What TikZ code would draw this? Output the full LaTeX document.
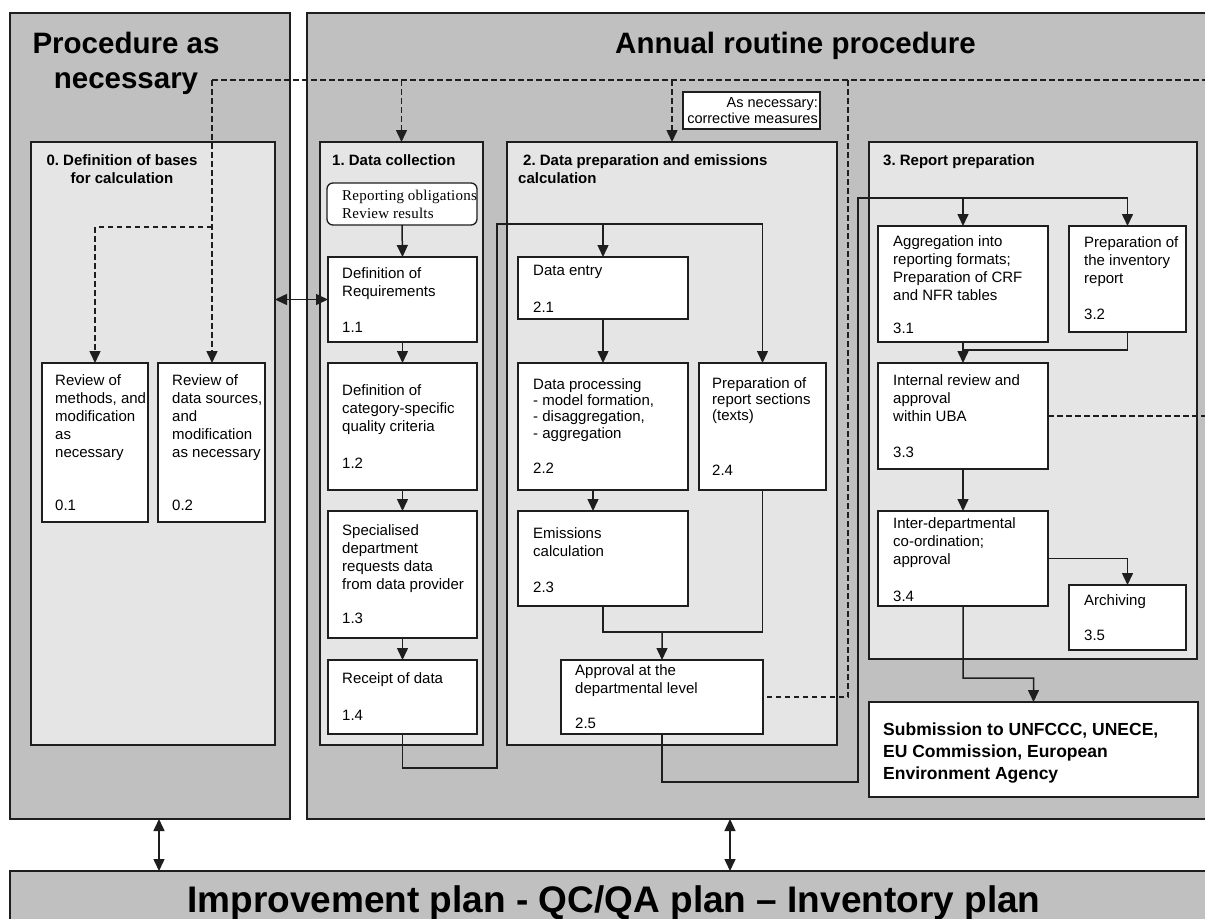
\documentclass[tikz,border=0pt]{standalone}
\usepackage{fontspec}
\setmainfont{Liberation Sans}
\newfontfamily\roundfont{Liberation Serif}[LetterSpace=1.5]
\usetikzlibrary{arrows.meta}

\definecolor{outerfill}{RGB}{192,192,192}
\definecolor{innerfill}{RGB}{229,229,229}
\definecolor{edge}{RGB}{30,30,30}

\tikzset{
  panel/.style={draw=edge, line width=1.3bp, fill=outerfill, anchor=north west, inner sep=0pt, outer sep=0pt},
  stage/.style={draw=edge, line width=1.3bp, fill=innerfill, anchor=north west, inner sep=0pt, outer sep=0pt},
  task/.style={draw=edge, line width=1.3bp, fill=white, anchor=north west, inner sep=0pt, outer sep=0pt},
  body/.style={font=\fontsize{15bp}{18bp}\selectfont, inner sep=0pt, anchor=north west, yshift=12.6bp, align=left},
  tight/.style={font=\fontsize{15bp}{16.3bp}\selectfont, inner sep=0pt, anchor=north west, yshift=11.41bp, align=left},
  subtext/.style={font=\bfseries\fontsize{17.5bp}{22bp}\selectfont, inner sep=0pt, anchor=north west, yshift=15.4bp, align=left},
  num/.style={font=\fontsize{15bp}{18bp}\selectfont, inner sep=0pt, anchor=base west},
  head/.style={font=\bfseries\fontsize{15bp}{18bp}\selectfont, inner sep=0pt, anchor=north west, yshift=12.6bp, align=left},
  bigtitle/.style={font=\bfseries\fontsize{29.5bp}{35bp}\selectfont, inner sep=0pt},
  link/.style={draw=edge, line width=1.5bp},
  flow/.style={link, -{Triangle[length=12bp,width=11bp]}},
  both/.style={link, {Triangle[length=12bp,width=11bp]}-{Triangle[length=12bp,width=11bp]}},
  dashlink/.style={link, dash pattern=on 5.5bp off 3.5bp},
  dashflow/.style={dashlink, -{Triangle[length=12bp,width=11bp]}}
}

\begin{document}
\frenchspacing
\begin{tikzpicture}[x=1bp, y=-1bp]
\path[use as bounding box] (0,0) rectangle (1205,919);
\clip (0,0) rectangle (1205,919);
\fill[white] (0,0) rectangle (1205,919);

% outer panels
\node[panel, minimum width=280bp, minimum height=806bp] (proc) at (10,13) {};
\node[panel, minimum width=920bp, minimum height=806bp] (annual) at (307,13) {};
\node[panel, minimum width=1215bp, minimum height=80bp] (plan) at (10,871) {};

% stage panels
\node[stage, minimum width=244bp, minimum height=603bp] (st0) at (31,142) {};
\node[stage, minimum width=163bp, minimum height=603bp] (st1) at (320,142) {};
\node[stage, minimum width=330bp, minimum height=603bp] (st2) at (507,142) {};
\node[stage, minimum width=328bp, minimum height=517bp] (st3) at (869,142) {};

% titles
\node[bigtitle, align=center, anchor=north, yshift=24.5bp] (tproc) at (126,53) {\strut Procedure as\\necessary};
\node[bigtitle, anchor=base west] (tannual) at (615,53) {Annual routine procedure};
\node[font=\bfseries\fontsize{37bp}{44bp}\selectfont, inner sep=0pt, anchor=base] (tplan) at (614,912) {Improvement plan - QC/QA plan -- Inventory plan};

% stage headings
\node[head, align=center, anchor=north] (h0) at (122,165) {\strut 0. Definition of bases\\for calculation};
\node[head] (h1) at (332,165) {\strut 1. Data collection};
\node[head] (h2) at (518,165) {\strut\hspace*{5bp}2. Data preparation and emissions\\calculation};
\node[head] (h3) at (883,165) {\strut 3. Report preparation};

% note box
\node[task, minimum width=137bp, minimum height=37bp] (note) at (683,92) {};
\node[font=\fontsize{14.5bp}{16bp}\selectfont, inner sep=0pt, anchor=north east, yshift=11.2bp, align=right] (tnote) at (818,107) {\strut As necessary:\\corrective measures};

% step boxes
\node[task, rounded corners=6bp, minimum width=150bp, minimum height=42bp] (rb) at (327,183) {};
\node[task, minimum width=106bp, minimum height=159bp] (b01) at (42,363) {};
\node[task, minimum width=107bp, minimum height=159bp] (b02) at (158,363) {};
\node[task, minimum width=149bp, minimum height=85bp] (b11) at (328,257) {};
\node[task, minimum width=149bp, minimum height=127bp] (b12) at (328,363) {};
\node[task, minimum width=149bp, minimum height=127bp] (b13) at (328,511) {};
\node[task, minimum width=149bp, minimum height=74bp] (b14) at (328,660) {};
\node[task, minimum width=170bp, minimum height=62bp] (b21) at (518,257) {};
\node[task, minimum width=170bp, minimum height=127bp] (b22) at (518,363) {};
\node[task, minimum width=170bp, minimum height=95bp] (b23) at (518,511) {};
\node[task, minimum width=127bp, minimum height=127bp] (b24) at (699,363) {};
\node[task, minimum width=202bp, minimum height=74bp] (b25) at (561,660) {};
\node[task, minimum width=170bp, minimum height=116bp] (b31) at (878,226) {};
\node[task, minimum width=117bp, minimum height=106bp] (b32) at (1069,226) {};
\node[task, minimum width=170bp, minimum height=106bp] (b33) at (878,363) {};
\node[task, minimum width=170bp, minimum height=95bp] (b34) at (878,511) {};
\node[task, minimum width=117bp, minimum height=65bp] (b35) at (1069,585) {};
\node[task, minimum width=329bp, minimum height=95bp] (sub) at (869,702) {};

% box texts
\node[inner sep=0pt, anchor=north west, yshift=12.6bp, align=left, font=\roundfont\fontsize{15bp}{18bp}\selectfont] (trb) at (342,200) {\strut Reporting obligations\\Review results};
\node[body] (t01) at (55,385) {\strut Review of\\methods, and\\modification\\as\\necessary};
\node[num] (n01) at (55,510) {0.1};
\node[body] (t02) at (172,385) {\strut Review of\\data sources,\\and\\modification\\as necessary};
\node[num] (n02) at (172,510) {0.2};
\node[body] (t11) at (342,278) {\strut Definition of\\Requirements};
\node[num] (n11) at (342,332) {1.1};
\node[body] (t12) at (342,395) {\strut Definition of\\category-specific\\quality criteria};
\node[num] (n12) at (342,468) {1.2};
\node[body] (t13) at (342,535) {\strut Specialised\\department\\requests data\\from data provider};
\node[num] (n13) at (342,623) {1.3};
\node[body] (t14) at (342,683) {\strut Receipt of data};
\node[num] (n14) at (342,720) {1.4};
\node[body] (t21) at (533,275) {\strut Data entry};
\node[num] (n21) at (533,312) {2.1};
\node[tight] (t22) at (533,389) {\strut Data processing\\- model formation,\\- disaggregation,\\- aggregation};
\node[num] (n22) at (533,473) {2.2};
\node[body] (t23) at (533,538) {\strut Emissions\\calculation};
\node[num] (n23) at (533,592) {2.3};
\node[tight] (t24) at (712,388) {\strut Preparation of\\report sections\\(texts)};
\node[num] (n24) at (712,475) {2.4};
\node[body] (t25) at (575,675) {\strut Approval at the\\departmental level};
\node[num] (n25) at (575,728) {2.5};
\node[body] (t31) at (893,246) {\strut Aggregation into\\reporting formats;\\Preparation of CRF\\and NFR tables};
\node[num] (n31) at (893,333) {3.1};
\node[body] (t32) at (1084,247) {\strut Preparation of\\the inventory\\report};
\node[num] (n32) at (1084,319) {3.2};
\node[body] (t33) at (893,385) {\strut Internal review and\\approval\\within UBA};
\node[num] (n33) at (893,457) {3.3};
\node[body] (t34) at (893,528) {\strut Inter-departmental\\co-ordination;\\approval};
\node[num] (n34) at (893,601) {3.4};
\node[body] (t35) at (1084,605) {\strut Archiving};
\node[num] (n35) at (1084,640) {3.5};
\node[subtext] (tsub) at (883,735) {\strut Submission to UNFCCC, UNECE,\\EU Commission, European\\Environment Agency};

% junction points
\coordinate (j1) at (497,768);
\coordinate (j2) at (497,224);
\coordinate (j3) at (662,632);
\coordinate (j4) at (858,782);
\coordinate (j5) at (858,198);
\coordinate (j6) at (963,350);
\coordinate (j7) at (963,678);
\coordinate (d1) at (159,0);
\coordinate (d2) at (730,0);

% data collection chain
\draw[flow] (rb.south) -- (b11.north);
\draw[flow] (b11.south) -- (b12.north);
\draw[flow] (b12.south) -- (b13.north);
\draw[flow] (b13.south) -- (b14.north);
\draw[both] (st0.east |- b11.west) -- (b11.west);

% data preparation
\draw[flow] (b14.south) |- (j1) -- (j2) -| (b24.north);
\draw[flow] (b21.north |- j2) -- (b21.north);
\draw[flow] (b21.south) -- (b22.north);
\draw[flow] ([xshift=-10bp]b22.south) -- ([xshift=-10bp]b23.north);
\draw[link] (b23.south) |- (j3);
\draw[link] (b24.south) |- (j3);
\draw[flow] (j3) -- (b25.north);

% report preparation
\draw[flow] (b25.south) |- (j4) -- (j5) -| (b32.north);
\draw[flow] (b31.north |- j5) -- (b31.north);
\draw[flow] (b31.south) -- (b33.north);
\draw[link] (b32.south) |- (j6);
\draw[flow] (b33.south) -- (b34.north);
\draw[flow] (b34.east) -| (b35.north);
\draw[flow] (b34.south) -- (j7) -| (sub.north);

% links to the improvement plan
\draw[both] (proc.south -| d1) -- (plan.north -| d1);
\draw[both] (annual.south -| d2) -- (plan.north -| d2);

% corrective feedback (dashed)
\coordinate (ds) at (212,80);
\coordinate (de) at (1215,80);
\coordinate (k1) at (212,227);
\coordinate (k2) at (848,80);
\draw[dashlink] (ds) -- (de);
\draw[dashflow] (ds) -- (b02.north -| ds);
\draw[dashflow] (k1) -| (b01.north);
\draw[dashflow] (st1.north |- ds) -- (st1.north);
\draw[dashflow] (st2.north |- ds) -- (st2.north);
\draw[dashlink] (k2) |- (b25.east);
\draw[dashlink] (b33.east) -- ++(170,0);
\end{tikzpicture}
\end{document}
